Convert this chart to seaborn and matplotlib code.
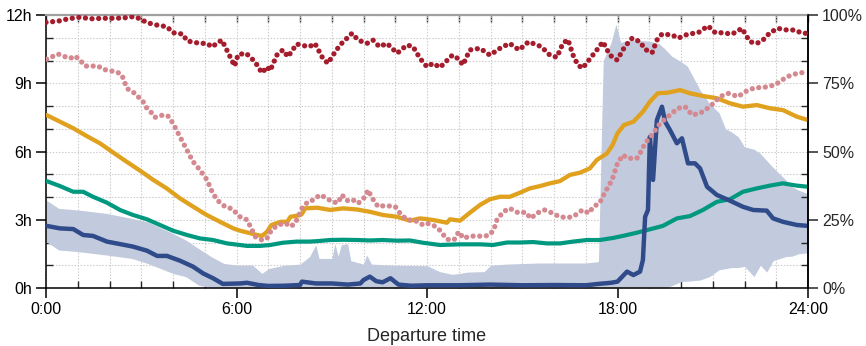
import numpy as np
import pandas as pd
import matplotlib
matplotlib.use("Agg")
import matplotlib.pyplot as plt
import seaborn as sns
from matplotlib.ticker import FixedLocator, MultipleLocator

# ---------------- data ----------------
# band (hours), common x
band_x = [0, 0.4, 1.0, 1.9, 2.7, 3.2, 4.0, 4.4, 4.8, 5.2, 5.6, 6.0, 6.5, 6.8, 7.0, 7.5,
          8.0, 8.3, 8.5, 8.6, 9.0, 9.1, 9.2, 9.3, 9.5, 9.6, 10.0, 10.1, 10.25, 11.0,
          12.0, 12.4, 12.8, 13.3, 13.8, 14.0, 14.5, 15.5, 17.0, 17.4, 17.55, 17.8, 17.95,
          18.1, 18.5, 19.0, 19.3, 19.5, 19.7, 20.0, 20.2, 20.6, 20.9, 21.2, 21.4, 21.6,
          21.8, 22.0, 22.3, 22.5, 22.7, 22.9, 23.3, 23.5, 23.7, 24.0]
band_hi = [3.87, 3.5, 3.43, 3.28, 3.06, 2.91, 2.40, 2.11, 1.74, 1.38, 1.08, 1.01, 1.01, 0.64, 0.85, 1.0,
           1.05, 1.38, 1.9, 1.3, 1.3, 1.95, 1.4, 1.9, 1.95, 1.2, 1.05, 1.45, 1.05, 1.0,
           0.98, 0.72, 0.6, 0.7, 0.72, 1.0, 1.05, 1.1, 1.1, 1.16, 10.0, 10.8, 11.6,
           10.8, 10.9, 10.85, 10.75, 10.5, 10.2, 9.95, 9.75, 8.7, 8.1, 7.7, 7.0, 6.85,
           6.65, 6.2, 6.1, 5.9, 5.6, 5.3, 4.75, 4.45, 4.3, 4.15]
band_lo = [2.04, 1.67, 1.6, 1.45, 1.3, 1.08, 0.64, 0.5, 0.13, 0.0, 0.0, 0.0, 0.0, 0.0, 0.0, 0.0,
           0.0, 0.0, 0.0, 0.0, 0.0, 0.0, 0.0, 0.0, 0.0, 0.0, 0.0, 0.0, 0.0, 0.0,
           0.0, 0.0, 0.0, 0.0, 0.0, 0.0, 0.0, 0.0, 0.0, 0.0, 0.0, 0.0, 0.0,
           0.0, 0.0, 0.0, 0.0, 0.0, 0.1, 0.28, 0.3, 0.35, 0.5, 0.8, 0.85, 0.9,
           0.9, 0.95, 0.5, 1.0, 0.7, 1.2, 1.38, 1.4, 1.5, 1.55]

# dark red dotted (percent)
red_x = [0.0, 0.4, 0.7, 1.07, 1.4, 1.8, 2.2, 2.5, 2.74, 2.95, 3.18, 3.5, 3.81, 4.0, 4.31, 4.44,
         4.85, 5.07, 5.23, 5.4, 5.54, 5.74, 5.94, 6.05, 6.3, 6.58, 6.8, 6.97, 7.06, 7.27, 7.46,
         7.62, 7.9, 8.0, 8.3, 8.47, 8.72, 8.88, 9.04, 9.26, 9.48, 9.64, 9.83, 10.11, 10.3,
         10.5, 10.74, 11.06, 11.37, 11.56, 11.78, 12.0, 12.19, 12.41, 12.6, 12.8, 12.98,
         13.13, 13.35, 13.67, 13.98, 14.3, 14.6, 14.9, 15.2, 15.6, 15.87, 16.09, 16.28,
         16.44, 16.6, 16.75, 16.9, 17.1, 17.35, 17.54, 17.76, 17.99, 18.23, 18.46, 18.71,
         18.87, 19.09, 19.24, 19.4, 19.72, 19.91, 20.22, 20.54, 20.85, 21.08, 21.3, 21.61,
         21.92, 22.17, 22.39, 22.58, 22.8, 23.05, 23.34, 23.59, 23.81, 24.0]
red_pct = [97.3, 97.8, 98.6, 99.2, 98.6, 98.8, 98.8, 99.0, 99.4, 98.7, 97.2, 96.3, 95.7, 93.5, 93.0, 90.5,
           89.6, 89.6, 88.3, 89.8, 90.8, 86.1, 81.3, 85.5, 86.0, 82.9, 78.8, 81.0, 79.6, 85.3, 87.2,
           84.7, 89.4, 89.0, 88.4, 89.6, 84.1, 82.3, 85.3, 89.0, 91.5, 93.3, 90.8, 89.6, 90.8,
           88.4, 89.6, 86.0, 89.0, 88.4, 84.1, 81.0, 82.3, 80.8, 83.0, 85.3, 84.0,
           81.7, 87.2, 87.8, 85.3, 87.8, 89.6, 87.2, 90.2, 88.4, 85.3, 84.5, 89.6,
           91.0, 85.3, 81.7, 80.5, 83.5, 87.2, 90.2, 85.3, 83.5, 88.4, 91.5, 90.2,
           87.4, 86.2, 90.8, 93.0, 92.7, 91.5, 93.0, 93.5, 96.0, 93.5, 93.5, 93.0,
           95.1, 90.2, 89.6, 90.8, 93.5, 95.1, 94.5, 94.5, 93.3, 93.3]

# pink dotted (percent)
pink_x = [0.02, 0.38, 0.53, 0.76, 0.91, 1.07, 1.23, 1.64, 1.8, 2.24, 2.39, 2.55, 2.8, 3.06, 3.18,
          3.34, 3.43, 3.69, 3.84, 4.0, 4.22, 4.44, 4.63, 4.85, 5.07, 5.23, 5.39, 5.64, 5.86,
          6.11, 6.33, 6.6, 6.8, 6.95, 7.1, 7.3, 7.55, 7.7, 7.85, 8.06, 8.25, 8.41, 8.63, 8.85,
          9.0, 9.2, 9.32, 9.48, 9.64, 9.83, 10.05, 10.14, 10.27, 10.46, 10.68, 11.0, 11.15,
          11.37, 11.53, 11.72, 11.87, 12.0, 12.19, 12.4, 12.63, 12.85, 13.0, 13.15, 13.35,
          13.57, 13.8, 13.95, 14.1, 14.2, 14.4, 14.6, 14.9, 15.1, 15.27, 15.46, 15.7, 15.96,
          16.17, 16.4, 16.6, 16.9, 17.1, 17.24, 17.43, 17.6, 17.83, 18.0, 18.17, 18.33,
          18.61, 18.74, 18.87, 19.12, 19.34, 19.65, 19.9, 20.13, 20.35, 20.6, 20.91, 21.23,
          21.48, 21.8, 22.02, 22.33, 22.58, 22.96, 23.34, 23.65, 24.0]
pink_pct = [83.8, 85.7, 85.0, 84.1, 85.0, 83.5, 81.3, 81.3, 80.1, 79.1, 78.0, 73.1, 71.3, 68.2, 65.8,
            64.0, 62.5, 63.4, 63.0, 60.3, 55.4, 50.5, 46.3, 43.2, 39.6, 35.3, 32.2, 29.8, 29.0,
            26.1, 25.0, 18.7, 17.6, 18.0, 21.2, 23.1, 23.7, 22.5, 23.7, 29.2, 31.6, 32.2, 34.1, 32.9,
            31.6, 31.2, 34.1, 32.0, 32.5, 31.0, 33.4, 35.9, 33.0, 29.8, 30.2, 29.8, 27.4,
            24.9, 24.9, 24.3, 23.1, 23.7, 23.1, 21.2, 17.8, 17.6, 20.6, 18.2, 19.0,
            19.0, 19.0, 19.3, 21.2, 24.9, 27.9, 29.2, 27.4, 27.8, 25.5, 27.4, 28.6, 27.4,
            26.1, 25.8, 26.1, 28.6, 27.4, 29.8, 31.0, 34.9, 39.6, 45.7, 48.7, 47.5,
            47.5, 50.0, 53.0, 56.6, 60.3, 63.4, 65.8, 66.4, 63.4, 64.0, 66.4, 70.1,
            71.3, 70.1, 71.9, 73.4, 73.4, 74.4, 77.4, 78.6, 79.2]

# orange (hours)
orange_x = [0.02, 0.44, 0.86, 1.28, 1.7, 2.12, 2.54, 2.96, 3.38, 3.8, 4.22, 4.64, 5.06, 5.48, 5.9,
            6.11, 6.4, 6.65, 6.8, 6.96, 7.1, 7.4, 7.6, 7.7, 8.0, 8.06, 8.16, 8.54, 8.95, 9.36,
            9.8, 10.2, 10.61, 11.06, 11.46, 11.78, 12.19, 12.63, 12.72, 13.04, 13.35, 13.67,
            13.98, 14.3, 14.61, 14.93, 15.24, 15.56, 15.87, 16.19, 16.5, 16.82, 17.13, 17.35,
            17.67, 17.85, 18.0, 18.2, 18.5, 18.8, 19.02, 19.27, 19.59, 19.97, 20.28, 20.69,
            21.13, 21.54, 21.95, 22.39, 22.8, 23.21, 23.65, 24.0]
orange_h = [7.6, 7.31, 7.02, 6.68, 6.36, 5.95, 5.55, 5.16, 4.75, 4.38, 3.94, 3.57, 3.21, 2.91, 2.62,
            2.52, 2.42, 2.33, 2.29, 2.47, 2.77, 2.91, 2.91, 3.13, 3.2, 3.25, 3.5, 3.53, 3.43, 3.5,
            3.45, 3.35, 3.21, 3.13, 2.96, 3.06, 2.99, 2.87, 3.02, 2.96, 3.31, 3.65,
            3.9, 4.01, 4.01, 4.19, 4.38, 4.48, 4.6, 4.7, 4.97, 5.07, 5.26, 5.63,
            5.92, 6.3, 6.8, 7.16, 7.31, 7.75, 8.19, 8.56, 8.59, 8.7, 8.56, 8.44,
            8.34, 8.12, 7.97, 8.04, 7.9, 7.82, 7.53, 7.38]

# teal (hours)
teal_x = [0.02, 0.44, 0.86, 1.17, 1.48, 1.92, 2.33, 2.74, 3.18, 3.59, 4.0, 4.44, 4.85, 5.26, 5.7,
          6.11, 6.33, 6.74, 7.06, 7.46, 7.9, 8.3, 8.54, 8.95, 9.36, 9.8, 10.2, 10.61, 11.06,
          11.46, 11.87, 12.41, 13.04, 13.67, 14.08, 14.52, 14.93, 15.34, 15.78, 16.19, 16.6,
          17.04, 17.45, 17.86, 18.17, 18.61, 19.02, 19.43, 19.87, 20.28, 20.69, 21.13, 21.54,
          21.95, 22.39, 22.8, 23.21, 23.65, 24.0]
teal_h = [4.7, 4.48, 4.23, 4.23, 4.01, 3.75, 3.43, 3.21, 3.02, 2.77, 2.52, 2.33, 2.18, 2.11, 1.96,
          1.89, 1.85, 1.85, 1.89, 1.99, 2.04, 2.04, 2.06, 2.11, 2.12, 2.11, 2.09, 2.11, 2.08,
          2.09, 1.99, 1.89, 1.92, 1.92, 1.89, 2.0, 2.0, 2.02, 1.96, 1.96, 2.04,
          2.11, 2.11, 2.2, 2.29, 2.43, 2.58, 2.73, 3.06, 3.16, 3.43, 3.79, 3.9,
          4.23, 4.38, 4.5, 4.6, 4.5, 4.45]

# navy (hours)
navy_x = [0.02, 0.44, 0.86, 1.17, 1.48, 1.92, 2.33, 2.74, 3.18, 3.5, 3.81, 4.22, 4.63, 4.95, 5.26,
          5.57, 6.11, 6.33, 6.7, 7.0, 7.5, 8.0, 8.06, 8.5, 9.0, 9.5, 9.9, 10.0, 10.2, 10.4,
          10.6, 10.85, 11.1, 11.5, 12.0, 13.0, 14.0, 15.0, 16.0, 17.0, 17.4, 17.8, 18.0, 18.3,
          18.5, 18.71, 18.8, 18.87, 18.96, 19.02, 19.12, 19.24, 19.4, 19.5, 19.65, 19.87,
          20.03, 20.22, 20.44, 20.6, 20.82, 21.13, 21.54, 21.95, 22.27, 22.7, 22.9, 23.21,
          23.65, 24.0]
navy_h = [2.73, 2.62, 2.59, 2.33, 2.29, 2.04, 1.93, 1.82, 1.64, 1.41, 1.41, 1.2, 0.94, 0.64, 0.43,
          0.18, 0.2, 0.23, 0.13, 0.09, 0.1, 0.13, 0.28, 0.2, 0.2, 0.15, 0.2, 0.35, 0.5, 0.3,
          0.25, 0.43, 0.15, 0.1, 0.12, 0.12, 0.15, 0.12, 0.13, 0.12, 0.18, 0.23, 0.28, 0.72,
          0.57, 0.72, 1.23, 3.13, 3.43, 6.65, 4.75, 7.38, 7.97, 7.31, 6.95, 6.36,
          6.58, 5.48, 5.48, 5.26, 4.45, 4.09, 3.84, 3.57, 3.43, 3.4, 3.06, 2.91,
          2.77, 2.73]

x_ticks = [0, 6, 12, 18, 24]
x_labels = ["0:00", "6:00", "12:00", "18:00", "24:00"]
y_ticks = [0, 3, 6, 9, 12]
y_labels = ["0h", "3h", "6h", "9h", "12h"]
p_ticks = [0, 25, 50, 75, 100]
p_labels = ["0%", "25%", "50%", "75%", "100%"]

# ---------------- style ----------------
sns.set_style("white")
plt.rcParams["font.family"] = ["Liberation Sans", "DejaVu Sans"]
plt.rcParams["font.size"] = 11.5

C_BAND = "#c2cadd"
C_NAVY = "#2f4b8a"
C_ORANGE = "#e0a21e"
C_TEAL = "#00997f"
C_RED = "#a51c2c"
C_PINK = "#d48890"

fig = plt.figure(figsize=(8.66, 3.46), dpi=100)
ax = fig.add_axes([46 / 866, 1 - 288 / 346, (808 - 46) / 866, (288 - 15) / 346])

ax.fill_between(band_x, band_lo, band_hi, color=C_BAND, lw=0, zorder=1)

sns.lineplot(x=teal_x, y=teal_h, ax=ax, color=C_TEAL, lw=3.0, estimator=None,
             solid_capstyle="round", solid_joinstyle="round", zorder=3)
sns.lineplot(x=orange_x, y=orange_h, ax=ax, color=C_ORANGE, lw=3.1, estimator=None,
             solid_capstyle="round", solid_joinstyle="round", zorder=3)
sns.lineplot(x=navy_x, y=navy_h, ax=ax, color=C_NAVY, lw=3.2, estimator=None,
             solid_capstyle="round", solid_joinstyle="round", zorder=4)

ax.set_xlim(0, 24)
ax.set_ylim(0, 12)
ax.xaxis.set_major_locator(FixedLocator(x_ticks))
ax.set_xticklabels(x_labels)
ax.xaxis.set_minor_locator(MultipleLocator(1))
ax.yaxis.set_major_locator(FixedLocator(y_ticks))
ax.set_yticklabels(y_labels)
ax.yaxis.set_minor_locator(MultipleLocator(1))
ax.grid(which="both", color="#cccccc", ls=(0, (1.3, 1.5)), lw=0.8, zorder=0)
ax.set_axisbelow(True)
ax.tick_params(which="major", direction="out", length=7, width=1.1, pad=3, colors="black",
               labelsize=11.5, bottom=True, left=True, top=False, right=False)
ax.tick_params(which="minor", direction="in", length=5, width=1.0, bottom=True, left=True,
               top=False, right=False)
ax.set_xlabel("Departure time", fontsize=13, labelpad=8)
ax.set_ylabel("")
for s in ["left", "bottom", "right"]:
    ax.spines[s].set_color("black")
    ax.spines[s].set_linewidth(1.1)
ax.spines["top"].set_color("#a0a0a0")
ax.spines["top"].set_linewidth(1.6)

# top ticks (inward, every hour)
sec = ax.secondary_xaxis("top")
sec.set_xticks(list(range(0, 25)))
sec.tick_params(direction="in", length=5, width=1.0, labeltop=False, colors="#333333")
sec.spines["top"].set_visible(False)

# right axis (percent)
ax2 = ax.twinx()
sns.lineplot(x=pink_x, y=pink_pct, ax=ax2, color=C_PINK, lw=3.8, estimator=None,
             linestyle=(0, (0.01, 1.25)), dash_capstyle="round", zorder=5)
sns.lineplot(x=red_x, y=red_pct, ax=ax2, color=C_RED, lw=3.8, estimator=None,
             linestyle=(0, (0.01, 1.25)), dash_capstyle="round", zorder=5)
ax2.set_ylim(0, 100)
ax2.yaxis.set_major_locator(FixedLocator(p_ticks))
ax2.set_yticklabels(p_labels)
ax2.yaxis.set_minor_locator(FixedLocator([h * 100 / 12 for h in range(13)]))
ax2.tick_params(which="major", direction="out", length=7, width=1.1, pad=3, labelsize=11.5)
ax2.tick_params(which="minor", direction="in", length=5, width=1.0)
ax2.set_ylabel("")
for s in ["left", "bottom", "top"]:
    ax2.spines[s].set_visible(False)
ax2.spines["right"].set_color("black")
ax2.spines["right"].set_linewidth(1.1)
ax2.grid(False)

fig.savefig("out.png", dpi=100)
